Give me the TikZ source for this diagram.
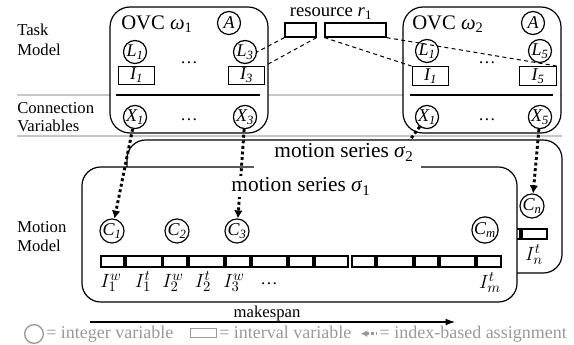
\documentclass[tikz,border=0pt]{standalone}
\usepackage{fontspec}
\setmainfont{Liberation Serif}
\usetikzlibrary{arrows.meta}
\definecolor{sepgray}{gray}{0.78}
\definecolor{leggray}{gray}{0.6}
\begin{document}
\begin{tikzpicture}[x=0.75pt,y=-0.75pt,
  every node/.style={inner sep=0pt},
  sidelbl/.style={anchor=west,align=left,font=\fontsize{12.5}{15}\selectfont},
  ovcbox/.style={draw,line width=0.9pt,rounded corners=15pt,fill=white},
  msbox/.style={draw,line width=0.9pt,rounded corners=14pt,fill=white},
  ivar/.style={circle,draw,line width=0.9pt,minimum size=17.25pt,fill=white,font=\fontsize{13.5}{13.5}\selectfont\itshape},
  ivl/.style={rectangle,draw,line width=0.9pt,minimum width=27.5pt,minimum height=14pt,fill=white,font=\fontsize{13.5}{13.5}\selectfont\itshape},
  resrect/.style={rectangle,draw,line width=0.9pt,minimum height=10.5pt,fill=white},
  barcell/.style={draw,line width=1.2pt,fill=white},
  ovctxt/.style={anchor=base west,font=\fontsize{15.5}{15.5}\selectfont},
  bigtxt/.style={anchor=base,font=\fontsize{16}{16}\selectfont},
  dotsl/.style={anchor=base,font=\fontsize{13}{13}\selectfont},
  mlbl/.style={anchor=base,font=\fontsize{15.5}{15.5}\selectfont},
  resline/.style={dash pattern=on 3pt off 2.5pt,line width=0.75pt},
  assign/.style={line width=2.2pt,dash pattern=on 2.2pt off 2pt,-{Latex[length=6pt,width=6.5pt]}},
  legtxt/.style={anchor=base west,text=leggray,font=\fontsize{13.5}{13.5}\selectfont},
]
\useasboundingbox (0,0) rectangle (574,345);

% separators
\coordinate (sepAL) at (17,95); \coordinate (sepAR) at (562,95);
\coordinate (sepBL) at (17,136); \coordinate (sepBR) at (562,136);
\draw[sepgray,line width=0.9pt] (sepAL) -- (sepAR);
\draw[sepgray,line width=0.9pt] (sepBL) -- (sepBR);

% side labels
\node[sidelbl] (lblTask) at (17,40) {Task\\Model};
\node[sidelbl,font=\fontsize{12.5}{13.5}\selectfont] (lblConn) at (17,117) {Connection\\Variables};
\node[sidelbl,font=\fontsize{12.5}{14.25}\selectfont] (lblMot) at (17,237) {Motion\\Model};

% OVC omega 1
\draw[ovcbox] (110,7) rectangle (268,133);
\node[ovctxt] (w1t) at (121,30) {OVC \textit{ω}\textsubscript{1}};
\node[ivar] (w1A) at (229,23) {A};
\node[ivar] (w1L1) at (135,52) {L\textsubscript{1}};
\node[ivar] (w1L3) at (245,52) {L\textsubscript{3}};
\node[ivl] (w1I1) at (136.5,75.5) {I\textsubscript{1}};
\node[ivl] (w1I3) at (246.5,75.5) {I\textsubscript{3}};
\node[dotsl] (w1d1) at (189,64) {…};
\coordinate (w1sl) at (116,95); \coordinate (w1sr) at (260,95);
\draw[line width=0.9pt] (w1sl) -- (w1sr);
\node[ivar] (w1X1) at (135,117) {X\textsubscript{1}};
\node[ivar] (w1X3) at (245,117) {X\textsubscript{3}};
\node[dotsl] (w1d2) at (189,121) {…};

% OVC omega 2
\draw[ovcbox] (403,7) rectangle (561,133);
\node[ovctxt] (w2t) at (412,30) {OVC \textit{ω}\textsubscript{2}};
\node[ivar] (w2A) at (533,23) {A};
\node[ivar] (w2L1) at (427,51) {L\textsubscript{1}};
\node[ivar] (w2L5) at (540,51) {L\textsubscript{5}};
\node[ivl] (w2I1) at (430.5,76) {I\textsubscript{1}};
\node[ivl] (w2I5) at (538,76) {I\textsubscript{5}};
\node[dotsl] (w2d1) at (487,64) {…};
\coordinate (w2sl) at (410,95); \coordinate (w2sr) at (553,95);
\draw[line width=0.9pt] (w2sl) -- (w2sr);
\node[ivar] (w2X1) at (427,117) {X\textsubscript{1}};
\node[ivar] (w2X5) at (540,117) {X\textsubscript{5}};
\node[dotsl] (w2d2) at (487,121) {…};

% resource
\node[anchor=base,font=\fontsize{14}{14}\selectfont] (rlbl) at (331,17) {resource \textit{r}\textsubscript{1}};
\node[resrect,minimum width=23.25pt] (r1a) at (300.5,30) {};
\node[resrect,minimum width=45.75pt] (r1b) at (355.5,30) {};
\draw[resline] (r1a.south west) -- (w1L3.east);
\draw[resline] (r1a.south east) -- (w1I3.north east);
\draw[resline] (r1b.south west) -- (w2I1.north west);
\draw[resline] (r1b.south east) -- (w2I5.north east);

% hidden assignment from omega2 X1
\coordinate (hid) at (365,200);
\draw[assign] (w2X1) -- (hid);

% motion series sigma 2
\draw[msbox] (127,140) rectangle (562,273);
\node[ivar] (Cn) at (532,206) {C\textsubscript{n}};
\draw[barcell] (497,229) rectangle (520,239);
\draw[barcell] (522,229) rectangle (547,239);
\node[mlbl] (lInt) at (534,260) {$I_n^t$};

% motion series sigma 1
\draw[msbox] (82,167) rectangle (517,302);
\fill[white] (254,160) rectangle (421,170);
\node[bigtxt] (s2lbl) at (344,158) {motion series \textit{σ}\textsubscript{2}};

\node[ivar] (C1) at (112,231) {C\textsubscript{1}};
\node[ivar] (C2) at (177,231) {C\textsubscript{2}};
\node[ivar] (C3) at (237,231) {C\textsubscript{3}};
\node[ivar] (Cm) at (485,230) {C\textsubscript{m}};

\foreach \a/\b in {101/124,126/162,163.5/187,189/224,226/250,252/287,289/313,315/348,352/375,377/413,415/438,440/475,477/501}
  \draw[barcell] (\a,256) rectangle (\b,267);

\node[mlbl] (lI1w) at (111,287) {$I_1^w$};
\node[mlbl] (lI1t) at (143,287) {$I_1^t$};
\node[mlbl] (lI2w) at (173,287) {$I_2^w$};
\node[mlbl] (lI2t) at (203,287) {$I_2^t$};
\node[mlbl] (lI3w) at (234,287) {$I_3^w$};
\node[dotsl] (ldots) at (269,284) {…};
\node[mlbl] (lImt) at (490,288) {$I_m^t$};

% assignments
\draw[assign] (w1X1) -- (C1);
\draw[assign] (w1X3) -- (C3);
\draw[assign] (w2X5) -- (Cn);
\node[bigtxt,fill=white,inner sep=1.5pt] (s1lbl) at (301,192) {motion series \textit{σ}\textsubscript{1}};

% makespan
\coordinate (msL) at (90,322); \coordinate (msR) at (455,322);
\draw[line width=0.8pt,-{Latex[length=7pt,width=5pt]}] (msL) -- (msR);
\node[anchor=base,font=\fontsize{12.5}{12.5}\selectfont] (mslbl) at (267,317) {makespan};

% legend
\node[circle,draw=leggray,line width=1pt,minimum size=14pt] (legC) at (34,334) {};
\node[legtxt] (legT1) at (46,338) {= integer variable};
\node[rectangle,draw=leggray,line width=1pt,minimum width=19.5pt,minimum height=6.5pt] (legR) at (203.5,333) {};
\node[legtxt] (legT2) at (219,338) {= interval variable};
\node[legtxt,anchor=base east] (legT3) at (567,338) {= index-based assignment};
\coordinate (legA1) at ([xshift=-14pt]legT3.west);
\coordinate (legA2) at ([xshift=-1.5pt]legT3.west);
\draw[leggray,line width=2pt,dash pattern=on 2pt off 1.6pt,{Latex[length=5pt,width=5pt]}-] (legA1) -- (legA2);
\end{tikzpicture}
\end{document}
